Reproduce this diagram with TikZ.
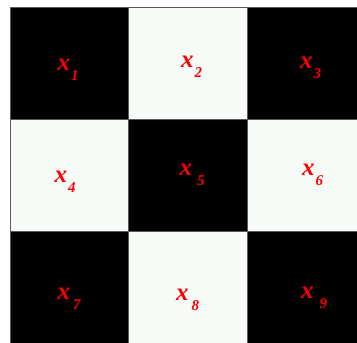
\documentclass[tikz,border=0pt]{standalone}
\usepackage{fontspec}
\setmainfont{Liberation Serif}
\definecolor{paper}{RGB}{246,251,248}
\definecolor{edge}{RGB}{90,90,90}
\tikzset{
  darkcell/.style={fill=black,draw=edge,line width=0.8pt},
  lightcell/.style={fill=paper,draw=edge,line width=0.8pt},
  varname/.style={anchor=base west,inner sep=0pt,text=red,
    font=\fontsize{25}{25}\selectfont\bfseries\itshape}
}
\newcommand{\subidx}[2][1pt]{\hspace{#1}\raisebox{-10pt}{\fontsize{15}{15}\selectfont #2}}

\begin{document}
\begin{tikzpicture}[x=1pt,y=-1pt]
  \useasboundingbox (0,0) rectangle (357,343);
  \clip (0,0) rectangle (357,343);

  % Checkerboard cells
  \foreach \r in {0,1,2}{
    \foreach \c in {0,1,2}{
      \pgfmathtruncatemacro{\cellpar}{mod(\r+\c,2)}
      \ifnum\cellpar=0
        \draw[darkcell] (10.5+118.3*\c,7.5+112*\r) rectangle ++(118.3,112);
      \else
        \draw[lightcell] (10.5+118.3*\c,7.5+112*\r) rectangle ++(118.3,112);
      \fi
    }
  }

  % Cell labels
  \node[varname] (v1) at (57.5,70)  {x\subidx{1}};
  \node[varname] (v2) at (181,67)   {x\subidx{2}};
  \node[varname] (v3) at (300,68)   {x\subidx{3}};
  \node[varname] (v4) at (54.5,182) {x\subidx{4}};
  \node[varname] (v5) at (179.5,175){x\subidx[5pt]{5}};
  \node[varname] (v6) at (302,175)  {x\subidx{6}};
  \node[varname] (v7) at (57.5,299) {x\subidx[3pt]{7}};
  \node[varname] (v8) at (176,300)  {x\subidx[3pt]{8}};
  \node[varname] (v9) at (301,298)  {x\subidx[6pt]{9}};
\end{tikzpicture}
\end{document}
